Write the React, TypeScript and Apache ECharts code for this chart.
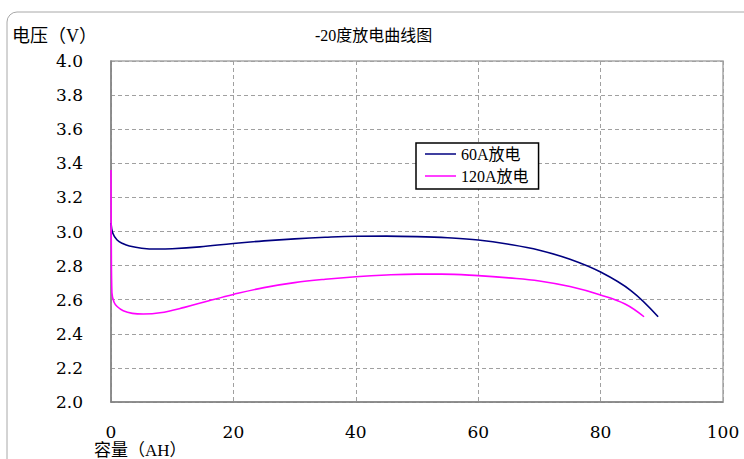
import React, { useEffect, useRef } from "react";
import * as echarts from "echarts";

const xTicks = [0, 20, 40, 60, 80, 100];
const yTicks = [2.0, 2.2, 2.4, 2.6, 2.8, 3.0, 3.2, 3.4, 3.6, 3.8, 4.0];

const seriesNames = ["60A放电", "120A放电"];

// capacity (AH), voltage (V)
const cap60 = [0, 0.3, 1, 2, 3, 5, 7.5, 10, 14.5, 20, 25, 30, 35, 40, 45, 50, 55, 60, 65, 70, 75, 80, 85, 89.4];
const volt60 = [3.05, 2.99, 2.95, 2.928, 2.915, 2.902, 2.897, 2.899, 2.91, 2.93, 2.945, 2.957, 2.966, 2.972, 2.973, 2.97, 2.963, 2.95, 2.925, 2.89, 2.837, 2.762, 2.652, 2.5];

const cap120 = [0, 0.05, 0.15, 0.5, 1, 2, 3.5, 5.3, 8, 12, 16, 20, 25, 30, 35, 40, 45, 50, 54, 60, 65, 70, 75, 80, 84, 87.1];
const volt120 = [3.36, 2.9, 2.64, 2.585, 2.56, 2.535, 2.52, 2.516, 2.523, 2.555, 2.594, 2.631, 2.671, 2.7, 2.72, 2.735, 2.745, 2.75, 2.75, 2.741, 2.728, 2.71, 2.677, 2.628, 2.575, 2.5];

const colors = ["#000080", "#ff00ff"];

const serif = "'DejaVu Serif', 'Liberation Serif', 'Noto Sans CJK SC', serif";
const cjk = "'Liberation Serif', 'Noto Sans CJK SC', serif";

export default function App() {
  const ref = useRef<HTMLDivElement>(null);
  useEffect(() => {
    if (!ref.current) return;
    const chart = echarts.init(ref.current, undefined, { renderer: "svg" });
    const d60 = cap60.map((c, i) => [c, volt60[i]]);
    const d120 = cap120.map((c, i) => [c, volt120[i]]);
    chart.setOption({
      animation: false,
      backgroundColor: "#ffffff",
      grid: {
        left: 111,
        top: 61,
        right: 21,
        bottom: 57,
        show: true,
        borderColor: "#a8a8a8",
        borderWidth: 1.5,
      },
      legend: {
        orient: "vertical",
        left: 416,
        top: 143,
        data: seriesNames.map((n, i) => ({ name: n, itemStyle: { color: colors[i] } })),
        icon: "rect",
        itemWidth: 31,
        itemHeight: 1.5,
        itemGap: 4,
        padding: [2, 10, 4, 9],
        borderColor: "#000000",
        borderWidth: 1.5,
        backgroundColor: "#ffffff",
        textStyle: { fontFamily: cjk, fontSize: 16, color: "#000", lineHeight: 18 },
      },
      xAxis: {
        type: "value",
        min: 0,
        max: 100,
        interval: 20,
        axisLine: { show: true, lineStyle: { color: "#808080", width: 1.5 } },
        axisTick: { show: false },
        axisLabel: {
          margin: 21,
          fontFamily: serif,
          fontSize: 17,
          color: "#000",
          formatter: (v: number) => (xTicks.includes(v) ? String(v) : ""),
        },
        splitLine: { show: true, lineStyle: { color: "#a0a0a0", type: [4, 3], width: 1 } },
      },
      yAxis: {
        type: "value",
        min: 2.0,
        max: 4.0,
        interval: 0.2,
        axisLine: { show: true, lineStyle: { color: "#808080", width: 1.5 } },
        axisTick: { show: false },
        axisLabel: {
          margin: 28,
          fontFamily: serif,
          fontSize: 17,
          color: "#000",
          formatter: (v: number) => {
            const t = yTicks.find((y) => Math.abs(y - v) < 1e-6);
            return t !== undefined ? t.toFixed(1) : "";
          },
        },
        splitLine: { show: true, lineStyle: { color: "#a0a0a0", type: [4, 3], width: 1 } },
      },
      graphic: [
        {
          type: "rect",
          silent: true,
          z: -1,
          shape: { x: 7, y: 12, width: 780, height: 480, r: 10 },
          style: { fill: "none", stroke: "#a8a8a8", lineWidth: 1 },
        },
        {
          type: "text",
          x: 12,
          y: 36,
          style: {
            text: "电压（V）",
            font: "18px " + cjk,
            fill: "#000",
            verticalAlign: "middle",
          },
        },
        {
          type: "text",
          x: 315,
          y: 35,
          style: {
            text: "-20度放电曲线图",
            font: "16px " + cjk,
            fill: "#000",
            verticalAlign: "middle",
          },
        },
        {
          type: "text",
          x: 94,
          y: 450,
          style: {
            text: "容量（AH）",
            font: "17px " + cjk,
            fill: "#000",
            verticalAlign: "middle",
          },
        },
      ],
      series: [
        {
          name: seriesNames[0],
          type: "line",
          data: d60,
          showSymbol: false,
          smooth: 0.4,
          lineStyle: { color: colors[0], width: 1.6 },
          itemStyle: { color: colors[0] },
        },
        {
          name: seriesNames[1],
          type: "line",
          data: d120,
          showSymbol: false,
          smooth: 0.4,
          lineStyle: { color: colors[1], width: 1.6 },
          itemStyle: { color: colors[1] },
        },
      ],
    });
    return () => chart.dispose();
  }, []);
  return (
    <div
      ref={ref}
      style={{ position: "absolute", left: 0, top: 0, width: 744, height: 459 }}
    />
  );
}
